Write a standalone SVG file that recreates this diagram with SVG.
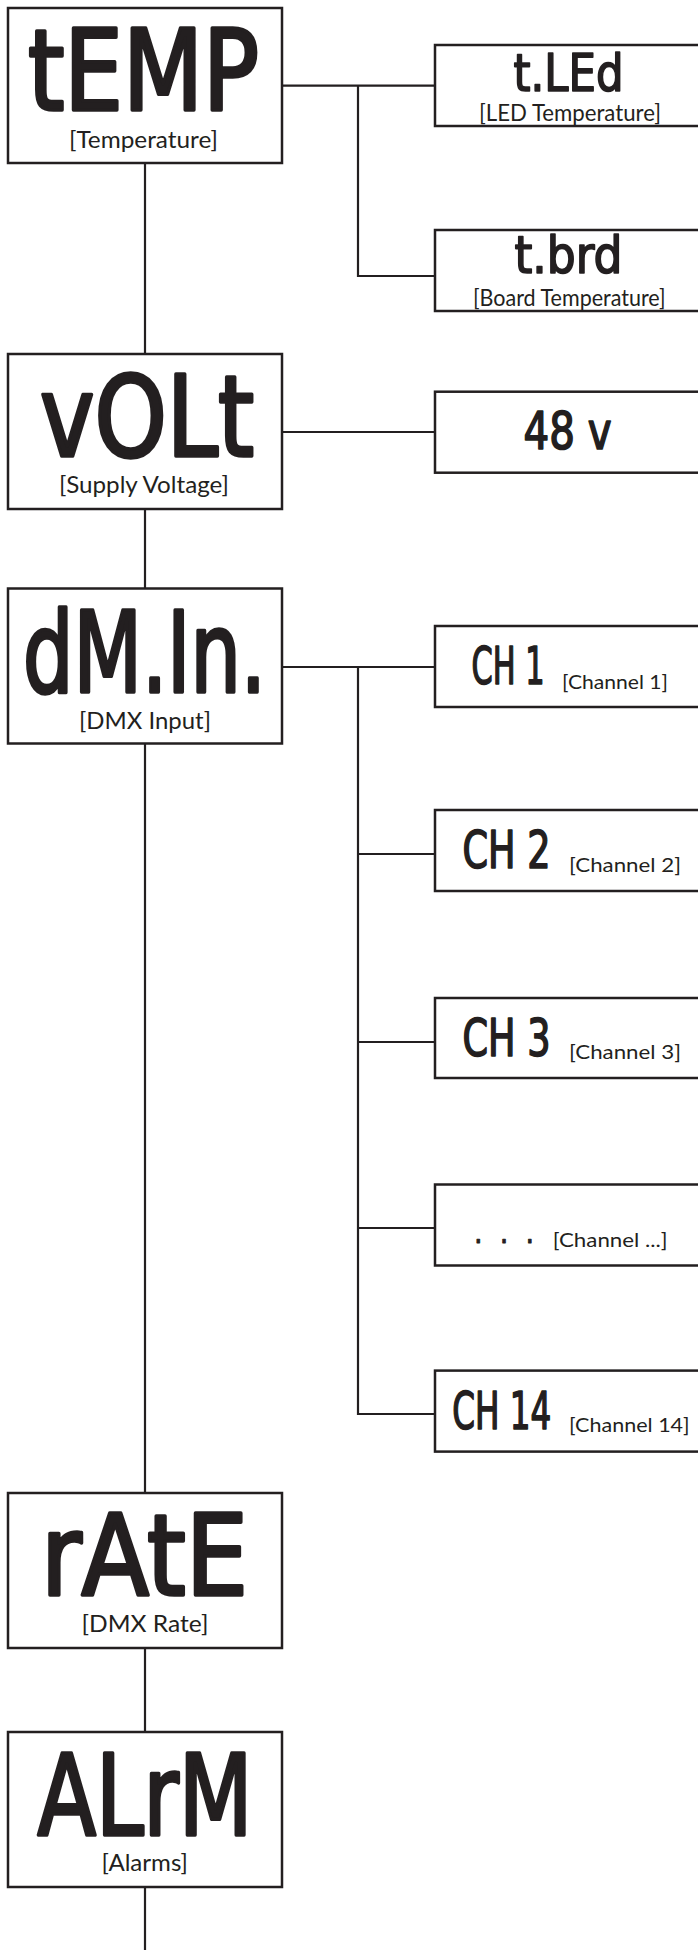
<svg xmlns="http://www.w3.org/2000/svg" width="698" height="1950" viewBox="0 0 698 1950">
<style>
.box{fill:#fff;stroke:#231f20;stroke-width:2.5}
.ln{fill:none;stroke:#231f20;stroke-width:2.2}
.seg{font-family:"DejaVu Sans Condensed","DejaVu Sans",sans-serif;font-weight:normal;fill:#231f20;stroke:#231f20;stroke-linejoin:round}
.big{font-size:112px;stroke-width:3.5}
.mid{font-size:51px;stroke-width:1.6}
.lbl{font-family:Lato,"Open Sans",sans-serif;font-weight:normal;fill:#231f20;font-size:24px}
.sm{font-size:20px}
</style>
<rect width="698" height="1950" fill="#fff"/>
<g id="connectors">
<path class="ln" d="M145 163V354M145 509V588.5M145 743.5V1493M145 1648V1732M145 1887V1950"/>
<path class="ln" d="M282 85.7H435M358 85.7V276H435"/>
<path class="ln" d="M282 432H435"/>
<path class="ln" d="M282 667H435M358 667V1414H435M358 854H435M358 1042H435M358 1228H435"/>
</g>
<g id="temp">
<rect class="box" x="8" y="8" width="274" height="155"/>
<text class="seg big" x="28" y="109.5" textLength="231" lengthAdjust="spacingAndGlyphs">tEMP</text>
<text class="lbl" x="69" y="147.5" textLength="149" lengthAdjust="spacingAndGlyphs">[Temperature]</text>
</g>
<g id="volt">
<rect class="box" x="8" y="354" width="274" height="155"/>
<text class="seg big" x="40" y="455.5" textLength="214" lengthAdjust="spacingAndGlyphs">vOLt</text>
<text class="lbl" x="59" y="493" textLength="170" lengthAdjust="spacingAndGlyphs">[Supply Voltage]</text>
</g>
<g id="dmin">
<rect class="box" x="8" y="588.5" width="274" height="155"/>
<text class="seg big" x="23" y="691.5" textLength="243" lengthAdjust="spacingAndGlyphs">dM.In.</text>
<text class="lbl" x="79" y="728.5" textLength="132" lengthAdjust="spacingAndGlyphs">[DMX Input]</text>
</g>
<g id="rate">
<rect class="box" x="8" y="1493" width="274" height="155"/>
<text class="seg big" x="41" y="1594.5" textLength="207" lengthAdjust="spacingAndGlyphs">rAtE</text>
<text class="lbl" x="81.5" y="1631.5" textLength="127" lengthAdjust="spacingAndGlyphs">[DMX Rate]</text>
</g>
<g id="alrm">
<rect class="box" x="8" y="1732" width="274" height="155"/>
<text class="seg big" x="37.5" y="1834.5" textLength="215" lengthAdjust="spacingAndGlyphs">ALrM</text>
<text class="lbl" x="101.5" y="1871" textLength="86.5" lengthAdjust="spacingAndGlyphs">[Alarms]</text>
</g>
<g id="tled">
<rect class="box" x="435" y="45" width="275" height="81"/>
<text class="seg mid" x="513.5" y="91" textLength="110" lengthAdjust="spacingAndGlyphs">t.LEd</text>
<text class="lbl" x="479" y="121" textLength="182" lengthAdjust="spacingAndGlyphs">[LED Temperature]</text>
</g>
<g id="tbrd">
<rect class="box" x="435" y="230" width="275" height="81"/>
<text class="seg mid" x="514.5" y="273.3" textLength="108" lengthAdjust="spacingAndGlyphs">t.brd</text>
<text class="lbl" x="473" y="306" textLength="192.6" lengthAdjust="spacingAndGlyphs">[Board Temperature]</text>
</g>
<g id="v48">
<rect class="box" x="435" y="391.7" width="275" height="81"/>
<text class="seg mid" x="523.5" y="449.3" textLength="88" lengthAdjust="spacingAndGlyphs">48 v</text>
</g>
<g id="ch1">
<rect class="box" x="435" y="626" width="275" height="81"/>
<text class="seg mid" x="471.5" y="684.3" textLength="73" lengthAdjust="spacingAndGlyphs">CH 1</text>
<text class="lbl sm" x="562" y="688.5" textLength="106" lengthAdjust="spacingAndGlyphs">[Channel 1]</text>
</g>
<g id="ch2">
<rect class="box" x="435" y="810" width="275" height="81"/>
<text class="seg mid" x="462.5" y="868.3" textLength="88" lengthAdjust="spacingAndGlyphs">CH 2</text>
<text class="lbl sm" x="569" y="871.5" textLength="112" lengthAdjust="spacingAndGlyphs">[Channel 2]</text>
</g>
<g id="ch3">
<rect class="box" x="435" y="998" width="275" height="80"/>
<text class="seg mid" x="462.5" y="1056.3" textLength="88" lengthAdjust="spacingAndGlyphs">CH 3</text>
<text class="lbl sm" x="569" y="1059" textLength="112" lengthAdjust="spacingAndGlyphs">[Channel 3]</text>
</g>
<g id="chdots">
<rect class="box" x="435" y="1184.5" width="275" height="81"/>
<text class="seg" font-size="30" font-weight="bold" stroke-width="0.8" x="474" y="1243" textLength="60" lengthAdjust="spacing">. . .</text>
<text class="lbl sm" x="552.7" y="1246.5" textLength="115" lengthAdjust="spacingAndGlyphs">[Channel ...]</text>
</g>
<g id="ch14">
<rect class="box" x="435" y="1370.6" width="275" height="81"/>
<text class="seg mid" x="452.3" y="1428.8" textLength="99" lengthAdjust="spacingAndGlyphs">CH 14</text>
<text class="lbl sm" x="569" y="1431.5" textLength="120.7" lengthAdjust="spacingAndGlyphs">[Channel 14]</text>
</g>
</svg>
